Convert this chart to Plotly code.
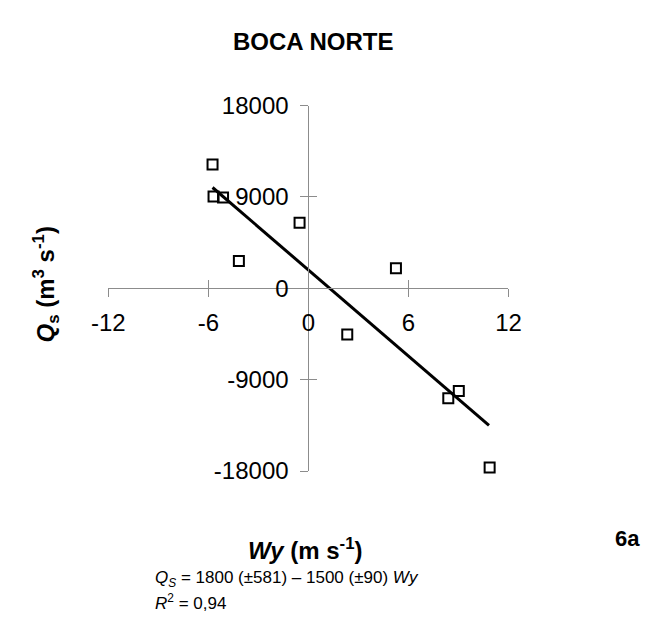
import plotly.graph_objects as go

# Data
wy = [-5.75, -5.69, -5.12, -0.53, -4.17, 5.25, 2.33, 8.39, 9.02, 10.87]
qs = [12200, 9050, 8950, 6470, 2700, 1980, -4550, -10840, -10110, -17650]

fit_x = [-5.75, 10.83]
fit_y = [9930, -13500]

x_ticks = [-12, -6, 0, 6, 12]
x_ticktext = ["-12", "-6", "0", "6", "12"]
y_ticks = [-18000, -9000, 0, 9000, 18000]
y_ticktext = ["-18000", "-9000", "0", "9000", "18000"]

FONT = "Liberation Sans, Arial, sans-serif"
AX = "#8c8c8c"
W, H = 657, 625

xdom = [95.7 / W, 515.0 / W]
ydom = [1 - 477.7 / H, 1 - 95.7 / H]
xmid = (xdom[0] + xdom[1]) / 2
ymid = (ydom[0] + ydom[1]) / 2

fig = go.Figure()
fig.add_trace(go.Scatter(x=fit_x, y=fit_y, mode="lines",
                         line=dict(color="black", width=3),
                         hoverinfo="skip", showlegend=False))
fig.add_trace(go.Scatter(x=wy, y=qs, mode="markers",
                         marker=dict(symbol="square-open", size=10, color="black",
                                     line=dict(width=2, color="black")),
                         cliponaxis=False, showlegend=False))
# invisible trace to activate the overlay axes (inner half of the crossing tick marks)
fig.add_trace(go.Scatter(x=wy, y=qs, mode="markers", xaxis="x2", yaxis="y2",
                         marker=dict(opacity=0), hoverinfo="skip", showlegend=False))

common = dict(showline=True, linecolor=AX, linewidth=1, ticks="outside", ticklen=8,
              tickcolor=AX, tickwidth=1, showgrid=False, zeroline=False,
              tickfont=dict(family=FONT, size=24, color="black"))

fig.update_layout(
    width=W, height=H,
    margin=dict(l=0, r=0, t=0, b=0),
    paper_bgcolor="white", plot_bgcolor="white",
    xaxis=dict(domain=xdom, range=[-12, 12], anchor="free", position=ymid,
               tickvals=x_ticks, ticktext=x_ticktext, ticklabelstandoff=5, **common),
    yaxis=dict(domain=ydom, range=[-18000, 18000], anchor="free", position=xmid,
               tickvals=y_ticks, ticktext=y_ticktext, ticklabelstandoff=7, **common),
    xaxis2=dict(overlaying="x", range=[-12, 12], anchor="free", position=ymid,
                tickvals=x_ticks, ticks="inside", ticklen=8, tickcolor=AX,
                showticklabels=False, showline=False, showgrid=False, zeroline=False),
    yaxis2=dict(overlaying="y", range=[-18000, 18000], anchor="free", position=xmid,
                tickvals=y_ticks, ticks="inside", ticklen=8, tickcolor=AX,
                showticklabels=False, showline=False, showgrid=False, zeroline=False),
    showlegend=False,
)


def note(text, x, y, size, xanchor="center", yanchor="middle", angle=0):
    fig.add_annotation(text=text, x=x / W, y=1 - y / H, xref="paper", yref="paper",
                       showarrow=False, xanchor=xanchor, yanchor=yanchor, textangle=angle,
                       font=dict(family=FONT, size=size, color="black"))


note("<b>BOCA NORTE</b>", 310, 29, 24)
note("<b><i>Q</i><sub>s</sub> (m<sup>3</sup> s<sup>-1</sup>)</b>", 30, 283, 24, angle=-90)
note("<b><i>Wy</i> (m s<sup>-1</sup>)</b>", 302, 559, 24)
note("<b>6a</b>", 640, 548, 22)
note("<i>Q<sub>S</sub></i> = 1800 (±581) – 1500 (±90) <i>Wy</i>", 143, 591, 17, xanchor="left")
note("<i>R</i><sup>2</sup> = 0,94", 143, 615, 17, xanchor="left")

fig.write_html("out.html")
